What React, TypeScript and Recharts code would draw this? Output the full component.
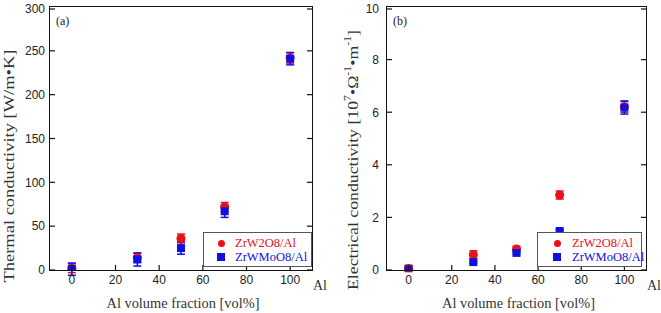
import React from 'react';
import {
  ScatterChart,
  Scatter,
  XAxis,
  YAxis,
  ErrorBar,
  Legend,
  Label
} from 'recharts';

// Al volume fraction [vol%]
const alFraction = [0, 30, 50, 70, 100];

// (a) thermal conductivity [W/m*K]
const thermalZrW = [2, 14, 36, 72, 242];
const thermalZrWErr = [5, 5, 5, 5, 6];
const thermalZrWMo = [1, 12, 25, 67, 241];
const thermalZrWMoErr = [7, 7.5, 7, 7, 7];

// (b) electrical conductivity [10^7 S/m]
const elecZrW = [0.06, 0.58, 0.8, 2.85, 6.2];
const elecZrWErr = [0.12, 0.15, 0.1, 0.15, 0.2];
const elecZrWMo = [0.02, 0.3, 0.65, 1.48, 6.18];
const elecZrWMoErr = [0.04, 0.05, 0.05, 0.05, 0.25];

const xTicks = [0, 20, 40, 60, 80, 100];
const thermalTicks = [0, 50, 100, 150, 200, 250, 300];
const elecTicks = [0, 2, 4, 6, 8, 10];

const seriesNames = ['ZrW2O8/Al', 'ZrWMoO8/Al'];

const RED = '#e8101a';
const BLUE = '#1010e0';
const INK = '#111';
const SERIF = '"Liberation Serif", "Times New Roman", serif';
const SANS = '"Liberation Sans", Arial, sans-serif';

const toRows = (ys: number[], errs: number[]) =>
  alFraction.map((x, i) => ({ x, y: ys[i], err: errs[i] }));

// tick that draws its own inward tick mark (and optionally the label)
type Side = 'bottom' | 'top' | 'left' | 'right';
const makeTick = (side: Side, margin: number, showText: boolean) => (props: any) => {
  const { x, y, payload } = props;
  let line = { x1: x, y1: y, x2: x, y2: y };
  if (side === 'bottom') {
    const ay = y - margin + 5;
    line = { x1: x, y1: ay, x2: x, y2: ay - 5 };
  } else if (side === 'top') {
    const ay = y + margin - 5;
    line = { x1: x, y1: ay, x2: x, y2: ay + 5 };
  } else if (side === 'left') {
    const ax = x + margin - 5;
    line = { x1: ax, y1: y, x2: ax + 5, y2: y };
  } else {
    const ax = x - margin + 5;
    line = { x1: ax, y1: y, x2: ax - 5, y2: y };
  }
  return (
    <g>
      <path
        d={`M${line.x1},${line.y1}L${line.x2},${line.y2}`}
        stroke={INK}
        strokeWidth={1.2}
        fill="none"
      />
      {showText && (
        <text
          x={x}
          y={y}
          dy={side === 'bottom' ? '0.75em' : '0.36em'}
          textAnchor={side === 'bottom' ? 'middle' : 'end'}
          fontSize={12}
          fontFamily={SANS}
          fill="#222"
        >
          {payload.value}
        </text>
      )}
    </g>
  );
};

const LegendBox: React.FC<{ markerX: number; textX: number }> = ({ markerX, textX }) => (
  <div
    style={{
      position: 'relative',
      width: '100%',
      height: '100%',
      boxSizing: 'border-box',
      border: '1px solid #555',
      background: '#fff',
      fontFamily: SERIF,
      fontSize: 12.5
    }}
  >
    {seriesNames.map((name, i) => (
      <React.Fragment key={name}>
        <div
          style={{
            position: 'absolute',
            left: markerX - (i === 0 ? 3.5 : 4),
            top: (i === 0 ? 10 : 24) - (i === 0 ? 3.5 : 4),
            width: i === 0 ? 7 : 8,
            height: i === 0 ? 7 : 8,
            borderRadius: i === 0 ? '50%' : 0,
            background: i === 0 ? RED : BLUE
          }}
        />
        <div
          style={{
            position: 'absolute',
            left: textX,
            top: (i === 0 ? 10 : 24) - 8,
            lineHeight: '16px',
            color: i === 0 ? RED : BLUE,
            whiteSpace: 'nowrap'
          }}
        >
          {name}
        </div>
      </React.Fragment>
    ))}
  </div>
);

interface PanelProps {
  tag: string;
  width: number;
  yAxisWidth: number;
  right: number;
  yTickMargin: number;
  yDomain: [number, number];
  yTicks: number[];
  red: { x: number; y: number; err: number }[];
  blue: { x: number; y: number; err: number }[];
  yTitle: React.ReactNode;
  yTitleX: number;
  yTitleY: number;
  yTitleLength: number;
  legendLeft: number;
  legendMarkerX: number;
  legendTextX: number;
}

const TOP = 6;
const BOTTOM = 13;
const X_AXIS_H = 30;
const CHART_H = 313;

const Panel: React.FC<PanelProps> = (p) => {
  const legendStyle: React.CSSProperties = {
    position: 'absolute',
    left: p.legendLeft,
    top: 232,
    width: 312 - p.legendLeft,
    height: 35
  };
  // plot frame around the plot box
  const plotLeft = p.yAxisWidth;
  const plotTop = TOP + 1;
  const plotW = p.width - p.right - p.yAxisWidth;
  const plotH = CHART_H - BOTTOM - X_AXIS_H - plotTop;

  return (
    <div style={{ position: 'relative', width: p.width, height: CHART_H, flex: 'none' }}>
      <ScatterChart
        width={p.width}
        height={CHART_H}
        margin={{ top: TOP, right: p.right - 1, bottom: BOTTOM, left: 0 }}
      >
        <XAxis
          type="number"
          dataKey="x"
          domain={[-10, 110]}
          ticks={xTicks}
          height={X_AXIS_H}
          tickSize={-5}
          tickMargin={10}
          tick={makeTick('bottom', 10, true)}
          axisLine={false}
          tickLine={false}
        >
          <Label
            content={({ viewBox }: any) => (
              <g>
                <text
                  x={viewBox.x + viewBox.width / 2 + 2}
                  y={viewBox.y + 38}
                  textAnchor="middle"
                  fontFamily={SERIF}
                  fontSize={14.5}
                  fill="#333"
                  textLength={153}
                  lengthAdjust="spacingAndGlyphs"
                >
                  Al volume fraction [vol%]
                </text>
                <text
                  x={viewBox.x + viewBox.width + 1}
                  y={viewBox.y + 20}
                  fontFamily={SERIF}
                  fontSize={14}
                  fill="#333"
                >
                  Al
                </text>
              </g>
            )}
          />
        </XAxis>
        <XAxis
          xAxisId="top"
          orientation="top"
          type="number"
          dataKey="x"
          domain={[-10, 110]}
          ticks={xTicks}
          height={1}
          tickSize={-5}
          tickMargin={0}
          tick={makeTick('top', 0, false)}
          axisLine={false}
          tickLine={false}
        />
        <YAxis
          type="number"
          dataKey="y"
          domain={p.yDomain}
          allowDataOverflow
          ticks={p.yTicks}
          width={p.yAxisWidth}
          tickSize={-5}
          tickMargin={p.yTickMargin}
          tick={makeTick('left', p.yTickMargin, true)}
          axisLine={false}
          tickLine={false}
        >
          <Label
            content={({ viewBox }: any) => (
              <g>
                <text
                  x={p.yTitleX}
                  y={p.yTitleY}
                  transform={`rotate(-90 ${p.yTitleX} ${p.yTitleY})`}
                  textAnchor="middle"
                  dominantBaseline="central"
                  fontFamily={SERIF}
                  fontSize={15}
                  fill="#333"
                  textLength={p.yTitleLength}
                  lengthAdjust="spacingAndGlyphs"
                >
                  {p.yTitle}
                </text>
                <text
                  x={viewBox.x + viewBox.width + 6}
                  y={25}
                  fontFamily={SERIF}
                  fontSize={12}
                  fill="#222"
                >
                  {p.tag}
                </text>
              </g>
            )}
          />
        </YAxis>
        <YAxis
          yAxisId="right"
          orientation="right"
          type="number"
          dataKey="y"
          domain={p.yDomain}
          allowDataOverflow
          ticks={p.yTicks}
          width={1}
          tickSize={-5}
          tickMargin={0}
          tick={makeTick('right', 0, false)}
          axisLine={false}
          tickLine={false}
        />
        <Scatter
          name={seriesNames[0]}
          data={p.red}
          fill={RED}
          shape="circle"
          legendType="circle"
          isAnimationActive={false}
        >
          <ErrorBar dataKey="err" direction="y" width={4} stroke={RED} />
        </Scatter>
        <Scatter
          name={seriesNames[1]}
          data={p.blue}
          fill={BLUE}
          shape="square"
          legendType="square"
          isAnimationActive={false}
        >
          <ErrorBar dataKey="err" direction="y" width={4} stroke={BLUE} />
        </Scatter>
        <Legend
          layout="horizontal"
          verticalAlign="middle"
          align="center"
          content={() => <LegendBox markerX={p.legendMarkerX} textX={p.legendTextX} />}
          wrapperStyle={legendStyle}
        />
      </ScatterChart>
      <div
        style={{
          position: 'absolute',
          zIndex: 5,
          left: plotLeft - 1,
          top: plotTop - 1,
          width: plotW + 2,
          height: plotH + 2,
          border: `1.5px solid ${INK}`,
          boxSizing: 'border-box',
          pointerEvents: 'none'
        }}
      />
    </div>
  );
};

const App: React.FC = () => {
  return (
    <div
      style={{
        position: 'absolute',
        left: 0,
        top: 0,
        width: 661,
        height: 313,
        background: '#fff',
        display: 'flex'
      }}
    >
      <Panel
        tag="(a)"
        width={330}
        yAxisWidth={50}
        right={18}
        yTickMargin={10}
        yDomain={[0, 300]}
        yTicks={thermalTicks}
        red={toRows(thermalZrW, thermalZrWErr)}
        blue={toRows(thermalZrWMo, thermalZrWMoErr)}
        yTitle="Thermal conductivity [W/m•K]"
        yTitleX={9}
        yTitleY={166}
        yTitleLength={233}
        legendLeft={203}
        legendMarkerX={17}
        legendTextX={31}
      />
      <Panel
        tag="(b)"
        width={331}
        yAxisWidth={57}
        right={15}
        yTickMargin={13}
        yDomain={[0, 10]}
        yTicks={elecTicks}
        red={toRows(elecZrW, elecZrWErr)}
        blue={toRows(elecZrWMo, elecZrWMoErr)}
        yTitle={
          <>
            Electrical conductivity [10
            <tspan dy={-6} fontSize={10}>7</tspan>
            <tspan dy={6}>•Ω</tspan>
            <tspan dy={-6} fontSize={10}>-1</tspan>
            <tspan dy={6}>•m</tspan>
            <tspan dy={-6} fontSize={10}>-1</tspan>
            <tspan dy={6}>]</tspan>
          </>
        }
        yTitleX={23}
        yTitleY={160}
        yTitleLength={260}
        legendLeft={207}
        legendMarkerX={19}
        legendTextX={34}
      />
    </div>
  );
};

export default App;
